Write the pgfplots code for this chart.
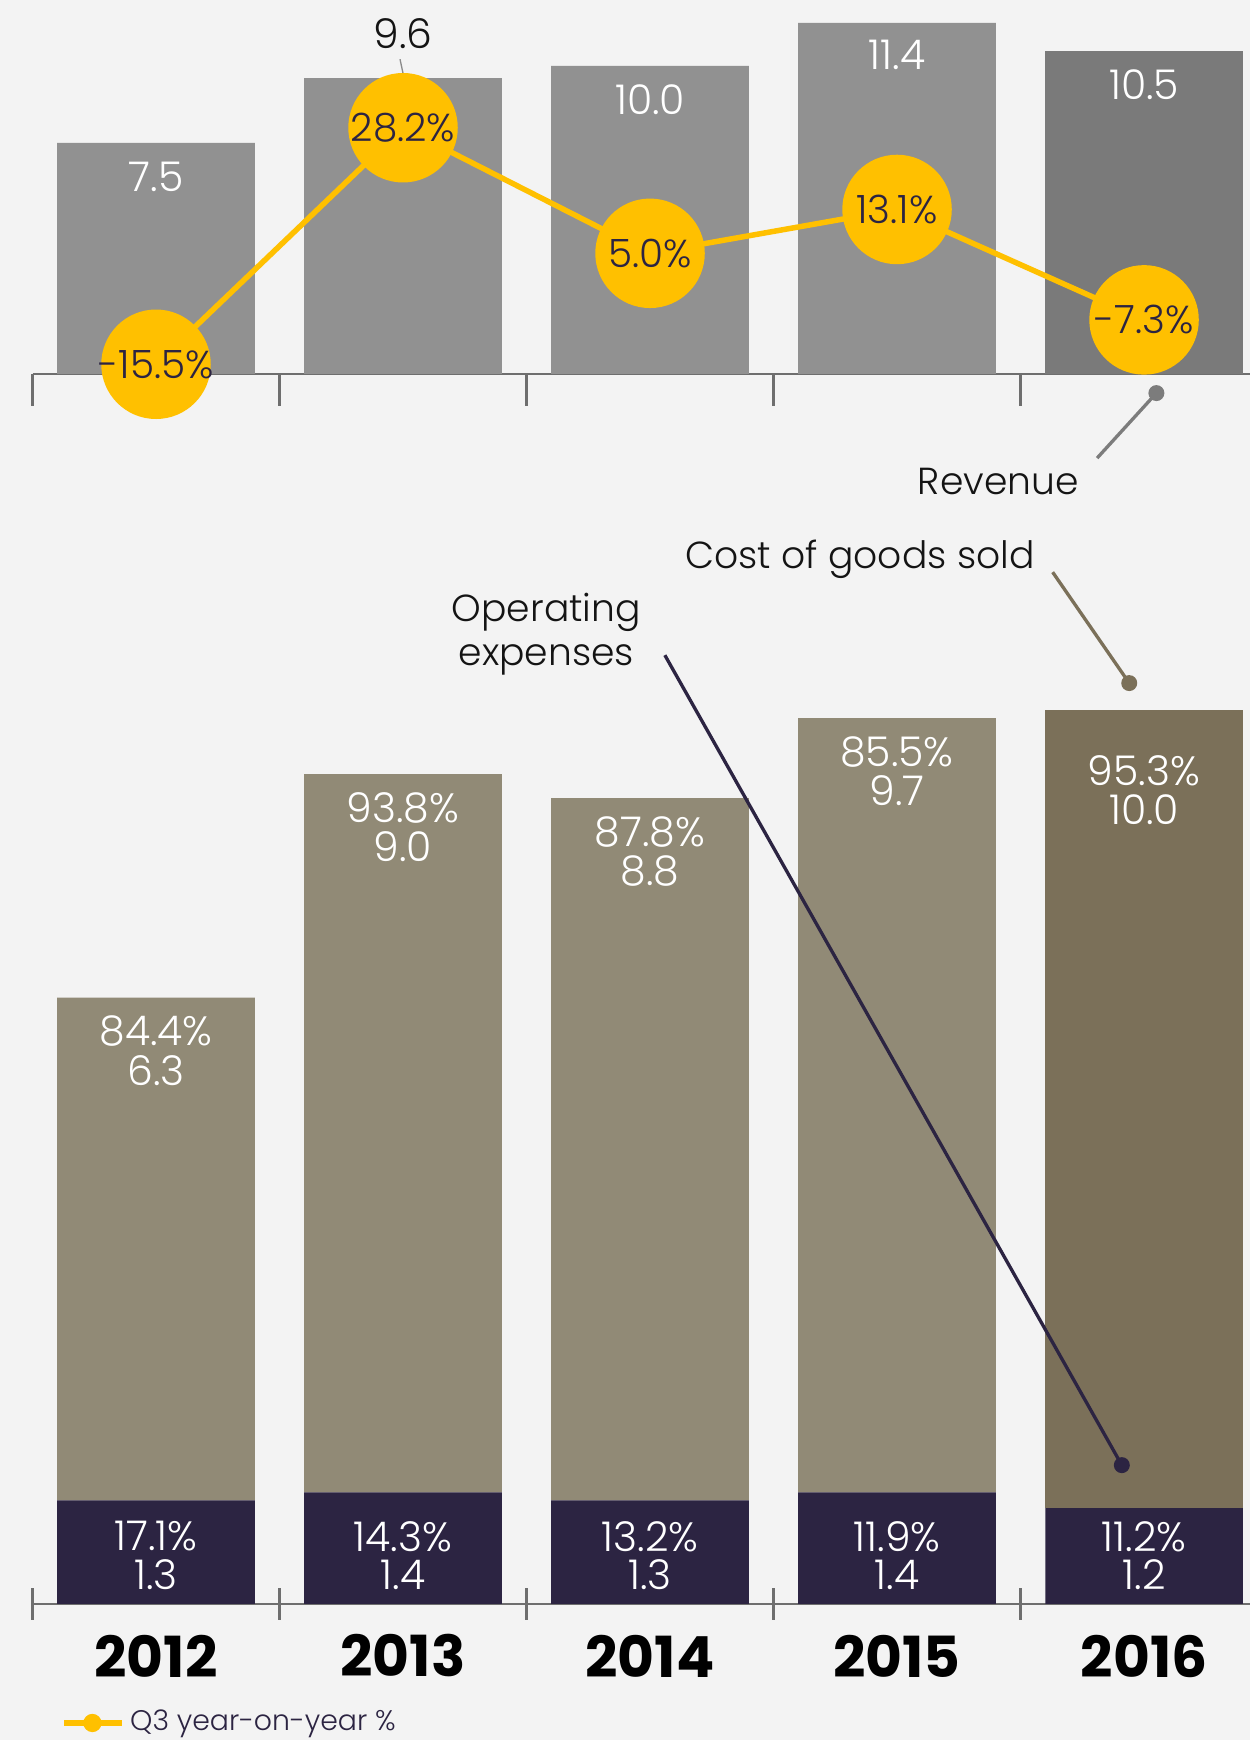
\documentclass[border=0pt]{standalone}
\usepackage{fontspec}
\setmainfont{Poppins}
\IfFontExistsTF{Poppins Light}{\newfontfamily\lt{Poppins Light}}{\newcommand\lt{}}
\usepackage{pgfplots}
\pgfplotsset{compat=1.18}
\definecolor{bg}{HTML}{F3F3F3}
\definecolor{revgray}{HTML}{919191}
\definecolor{revdark}{HTML}{7A7A7A}
\definecolor{cogs}{HTML}{918A76}
\definecolor{cogsdark}{HTML}{7B7059}
\definecolor{opex}{HTML}{2C2442}
\definecolor{yel}{HTML}{FFC000}
\definecolor{axgray}{HTML}{6E6E6E}
\definecolor{txt}{HTML}{141414}
\pgfplotsset{
  base/.style={
    scale only axis, width=365.25pt, anchor=south west,
    xmin=-0.5, xmax=4.429, clip=false,
    axis y line=none, axis x line*=bottom,
    x axis line style={-, draw=axgray, line width=0.7pt},
    xtick={-0.5,0.5,1.5,2.5,3.5}, xticklabels={},
    major tick length=9.5pt, tick align=center,
    tick style={axgray, line width=0.7pt},
  },
  over/.style={
    scale only axis, width=365.25pt, anchor=south west,
    xmin=-0.5, xmax=4.429, clip=false, hide axis,
  },
}
\tikzset{
  lab/.style={text=white, font=\lt\fontsize{12.3}{14}\selectfont, inner sep=0pt, anchor=center},
  ann/.style={text=txt, font=\lt\fontsize{11.3}{13}\selectfont, inner sep=0pt, anchor=base},
  yr/.style={font=\bfseries\fontsize{17}{19}\selectfont, text=black, inner sep=0pt, anchor=center},
}
\newcommand\twolab[5][0pt]{%
  \node[lab] at (axis cs:#2,#3) [yshift=-10.2pt-#1] {#4};
  \node[lab] at (axis cs:#2,#3) [yshift=-21.8pt-#1] {#5};}
\newcommand\oplab[3]{%
  \node[lab] at (axis cs:#1,0.846) {#2};
  \node[lab] at (axis cs:#1,0.363) {#3};}
\begin{document}
\begin{tikzpicture}
\path[use as bounding box, fill=bg] (0,0) rectangle (375pt,522pt);
% ---------------- Revenue bars ----------------
\begin{axis}[base, at={(9.75pt,409.8pt)}, height=112.2pt, ymin=0, ymax=12.14,
  ybar, bar width=0.8]
\addplot[fill=revgray, draw=none, bar shift=0pt] coordinates {(0,7.5) (1,9.6) (2,10.0) (3,11.4)};
\addplot[fill=revdark, draw=none, bar shift=0pt] coordinates {(4,10.5)};
\end{axis}
% ---------------- Revenue labels ----------------
\begin{axis}[over, at={(9.75pt,409.8pt)}, height=112.2pt, ymin=0, ymax=12.14]
\node[lab] at (axis cs:0,7.5) [yshift=-10.2pt] {7.5};
\node[lab,text=txt] at (axis cs:1,9.6) [yshift=13.5pt] {9.6};
\draw[axgray!80, line width=0.4pt] ([yshift=1.5pt]axis cs:1,9.6) -- ([xshift=-0.9pt,yshift=5.7pt]axis cs:1,9.6);
\node[lab] at (axis cs:2,10.0) [yshift=-10.2pt] {10.0};
\node[lab] at (axis cs:3,11.4) [yshift=-9.6pt] {11.4};
\node[lab] at (axis cs:4,10.5) [yshift=-10.2pt] {10.5};
\draw[axgray!90, line width=1pt] (axis cs:3.81,-2.73) -- (axis cs:4.05,-0.62);
\fill[axgray!90] (axis cs:4.05,-0.62) circle (2.4pt);
\node[ann] at (axis cs:3.41,-3.47) [yshift=-4.2pt] {Revenue};
\end{axis}
% ---------------- YoY line ----------------
\begin{axis}[over, at={(9.75pt,409.8pt)}, height=112.2pt, ymin=-17.3, ymax=51.8,
  legend style={at={(axis description cs:0.0234,-3.607)}, anchor=west, draw=none, fill=none,
    inner sep=0pt, text=opex, font=\lt\fontsize{8.5}{10}\selectfont,
    nodes={inner sep=1.5pt}},
  legend cell align=left]
\addplot[yel, line width=1.65pt, mark=*, mark size=15.6pt,
  mark options={fill=yel, draw=none},
  nodes near coords, point meta=explicit symbolic,
  every node near coord/.style={anchor=center, text=opex, inner sep=0pt,
    font=\lt\fontsize{11.7}{13}\selectfont},
  legend image code/.code={
    \draw[yel, line width=1.65pt] (0pt,0pt) -- (17.4pt,0pt);
    \fill[yel] (8.4pt,0pt) circle (1.9pt);}]
  coordinates {(0,-15.5) [-15.5\%] (1,28.2) [28.2\%] (2,5.0) [5.0\%] (3,13.1) [13.1\%] (4,-7.3) [-7.3\%]};
\addlegendentry{Q3 year-on-year \%}
\end{axis}
% ---------------- Cost bars ----------------
\begin{axis}[base, at={(9.75pt,40.8pt)}, height=287.28pt, ymin=0, ymax=12,
  ybar stacked, bar width=0.8]
\addplot[fill=opex, draw=none] coordinates {(0,1.3) (1,1.4) (2,1.3) (3,1.4) (4,1.2)};
\addplot[fill=cogs, draw=none] coordinates {(0,6.3) (1,9.0) (2,8.8) (3,9.7) (4,0)};
\addplot[fill=cogsdark, draw=none] coordinates {(0,0) (1,0) (2,0) (3,0) (4,10.0)};
\end{axis}
% ---------------- Cost labels ----------------
\begin{axis}[over, at={(9.75pt,40.8pt)}, height=287.28pt, ymin=0, ymax=12]
\oplab{0}{17.1\%}{1.3}
\oplab{1}{14.3\%}{1.4}
\oplab{2}{13.2\%}{1.3}
\oplab{3}{11.9\%}{1.4}
\oplab{4}{11.2\%}{1.2}
\twolab{0}{7.6}{84.4\%}{6.3}
\twolab{1}{10.4}{93.8\%}{9.0}
\twolab{2}{10.1}{87.8\%}{8.8}
\twolab{3}{11.1}{85.5\%}{9.7}
\twolab[8pt]{4}{11.2}{95.3\%}{10.0}
\node[yr] at (axis cs:0,0) [yshift=-15.6pt] {2012};
\node[yr] at (axis cs:1,0) [yshift=-15.6pt] {2013};
\node[yr] at (axis cs:2,0) [yshift=-15.6pt] {2014};
\node[yr] at (axis cs:3,0) [yshift=-15.6pt] {2015};
\node[yr] at (axis cs:4,0) [yshift=-15.6pt] {2016};
\node[ann] at (axis cs:2.85,13.15) [yshift=-4.2pt] {Cost of goods sold};
\draw[cogsdark, line width=1pt] (axis cs:3.63,12.93) -- (axis cs:3.94,11.54);
\fill[cogsdark] (axis cs:3.94,11.54) circle (2.4pt);
\node[ann] at (axis cs:1.58,12.49) [yshift=-4.2pt] {Operating};
\node[ann] at (axis cs:1.58,11.93) [yshift=-4.2pt] {expenses};
\draw[opex, line width=1pt] (axis cs:2.06,11.89) -- (axis cs:3.91,1.74);
\fill[opex] (axis cs:3.91,1.74) circle (2.4pt);
\end{axis}
\end{tikzpicture}
\end{document}
